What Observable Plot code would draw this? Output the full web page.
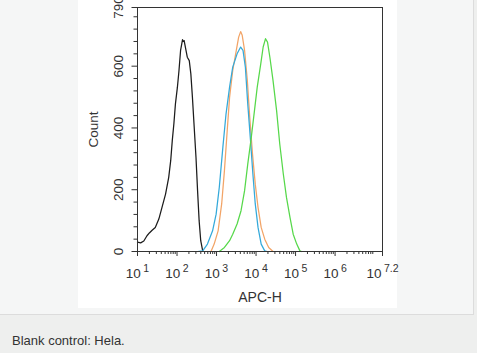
<!DOCTYPE html>
<html><head><meta charset="utf-8">
<script src="https://cdn.jsdelivr.net/npm/d3@7"></script>
<script src="https://cdn.jsdelivr.net/npm/@observablehq/plot@0.6"></script>
<style>
body{margin:0;background:#eeefee;width:477px;height:353px;overflow:hidden;font-family:"Liberation Sans",Arial,sans-serif;position:relative}
#panel{position:absolute;left:0;top:0;width:473px;height:314px;background:#f5f6f6;border-right:1px solid #dcdcdc;border-bottom:1px solid #dcdcdc}
#img{position:absolute;left:78px;top:0;width:319px;height:308px;background:#fff}
#cap{position:absolute;left:12px;top:333px;font-size:13px;line-height:15px;color:#333}
</style></head>
<body>
<div id="panel"><div id="img"></div></div>
<div id="cap">Blank control: Hela.</div>
<script>
// log10(APC-H) positions and counts
const blackLog = [1.00,1.08,1.16,1.24,1.30,1.37,1.45,1.54,1.62,1.71,1.79,1.84,1.88,1.92,1.96,2.01,2.05,2.09,2.12,2.14,2.16,2.18,2.22,2.26,2.31,2.35,2.39,2.43,2.48,2.52,2.56,2.60,2.65];
const blackCount = [30,28,34,51,60,69,78,105,143,186,240,294,359,413,478,532,586,651,672,686,680,683,656,629,618,575,499,413,305,197,99,35,2];
const blueLog = [2.52,2.65,2.77,2.90,2.99,3.07,3.16,3.24,3.33,3.41,3.52,3.61,3.67,3.73,3.79,3.86,3.92,3.98,4.05,4.13,4.22,4.28];
const blueCount = [0,2,24,67,121,208,337,445,532,597,640,662,651,597,478,359,251,154,78,24,2,0];
const orangeLog = [2.86,2.94,3.04,3.13,3.20,3.27,3.33,3.41,3.50,3.56,3.61,3.65,3.71,3.78,3.84,3.91,3.98,4.05,4.13,4.22,4.32,4.43];
const orangeCount = [0,24,67,154,262,391,499,586,651,694,712,700,651,553,435,316,218,143,78,40,13,0];
const greenLog = [3.07,3.20,3.33,3.41,3.52,3.62,3.71,3.79,3.88,3.96,4.03,4.12,4.18,4.24,4.29,4.35,4.43,4.52,4.60,4.69,4.77,4.86,4.94,5.03,5.11,5.15];
const greenCount = [0,13,35,56,89,132,197,283,370,456,532,608,662,689,678,629,553,456,348,251,175,110,56,24,2,0];

const xMajorExp = ["1","2","3","4","5","6","7.2"];
const yMajor = [0,200,400,600,790];
const yMinor = [40,80,120,160,240,280,320,360,440,480,520,560,640,680,720,760];
const xMinor = [];
for (let e = 1; e < 7; e++) for (let m = 2; m <= 9; m++) xMinor.push(m * 10 ** e);
for (let m = 2; m <= 9; m++) if (m * 1e7 < 10 ** 7.2) xMinor.push(m * 1e7);

const series = [
  {log: blackLog, count: blackCount, color: "#1c1c1c"},
  {log: orangeLog, count: orangeCount, color: "#f2a467"},
  {log: blueLog, count: blueCount, color: "#34a9da"},
  {log: greenLog, count: greenCount, color: "#56d84a"}
];
const lines = series.map(s => Plot.line(s.log.map((l, i) => ({x: 10 ** l, y: s.count[i]})), {x: "x", y: "y", stroke: s.color, strokeWidth: 1.25}));

const xMax = 10 ** 7.2;
const xTicks = xMajorExp.map(e => ({v: 10 ** +e, e}));
const chart = Plot.plot({
  width: 319, height: 308,
  marginLeft: 59, marginRight: 15, marginTop: 7, marginBottom: 57,
  style: {fontFamily: "'Liberation Sans', Arial, sans-serif", fontSize: "13px", color: "#333", background: "transparent", overflow: "visible"},
  x: {type: "log", domain: [10, xMax]},
  y: {domain: [0, 790]},
  marks: [
    ...lines,
    Plot.frame({stroke: "#333"}),
    Plot.axisX(xMinor, {tickSize: 3, tickFormat: () => "", label: null, stroke: "#333"}),
    Plot.ruleX(xTicks, {x: "v", y1: () => 0, y2: () => 0, insetBottom: -5, stroke: "#333"}),
    Plot.text(xTicks, {x: "v", y: () => 0, text: d => "10^" + d.e, lineAnchor: "top", dy: 16.7, fontSize: 13.5, fill: "#333"}),
    Plot.axisY(yMinor, {tickSize: 3.5, tickFormat: () => "", label: null, stroke: "#333"}),
    Plot.axisY(yMajor, {tickSize: 5.5, tickFormat: () => "", label: null, stroke: "#333"}),
    Plot.text(yMajor, {y: d => d, text: d => String(d), frameAnchor: "left", textAnchor: "middle", dx: -19, rotate: -90, fontSize: 13.5, fill: "#333"}),
    Plot.text(["Count"], {frameAnchor: "left", textAnchor: "middle", dx: -44, rotate: -90, fontSize: 13.5, fill: "#333"}),
    Plot.text(["APC-H"], {frameAnchor: "bottom", dy: 41, lineAnchor: "top", fontSize: 14, fill: "#333"})
  ]
});
chart.querySelectorAll("text").forEach(t => {
  const s = t.textContent;
  if (!s.includes("^") || t.children.length) return;
  const [b, e] = s.split("^");
  t.textContent = b;
  const ts = document.createElementNS("http://www.w3.org/2000/svg", "tspan");
  ts.setAttribute("dy", "-5.3");
  ts.setAttribute("dx", "2.5");
  ts.setAttribute("font-size", "0.78em");
  ts.textContent = e;
  t.appendChild(ts);
});
document.getElementById("img").appendChild(chart);
</script>
</body></html>
